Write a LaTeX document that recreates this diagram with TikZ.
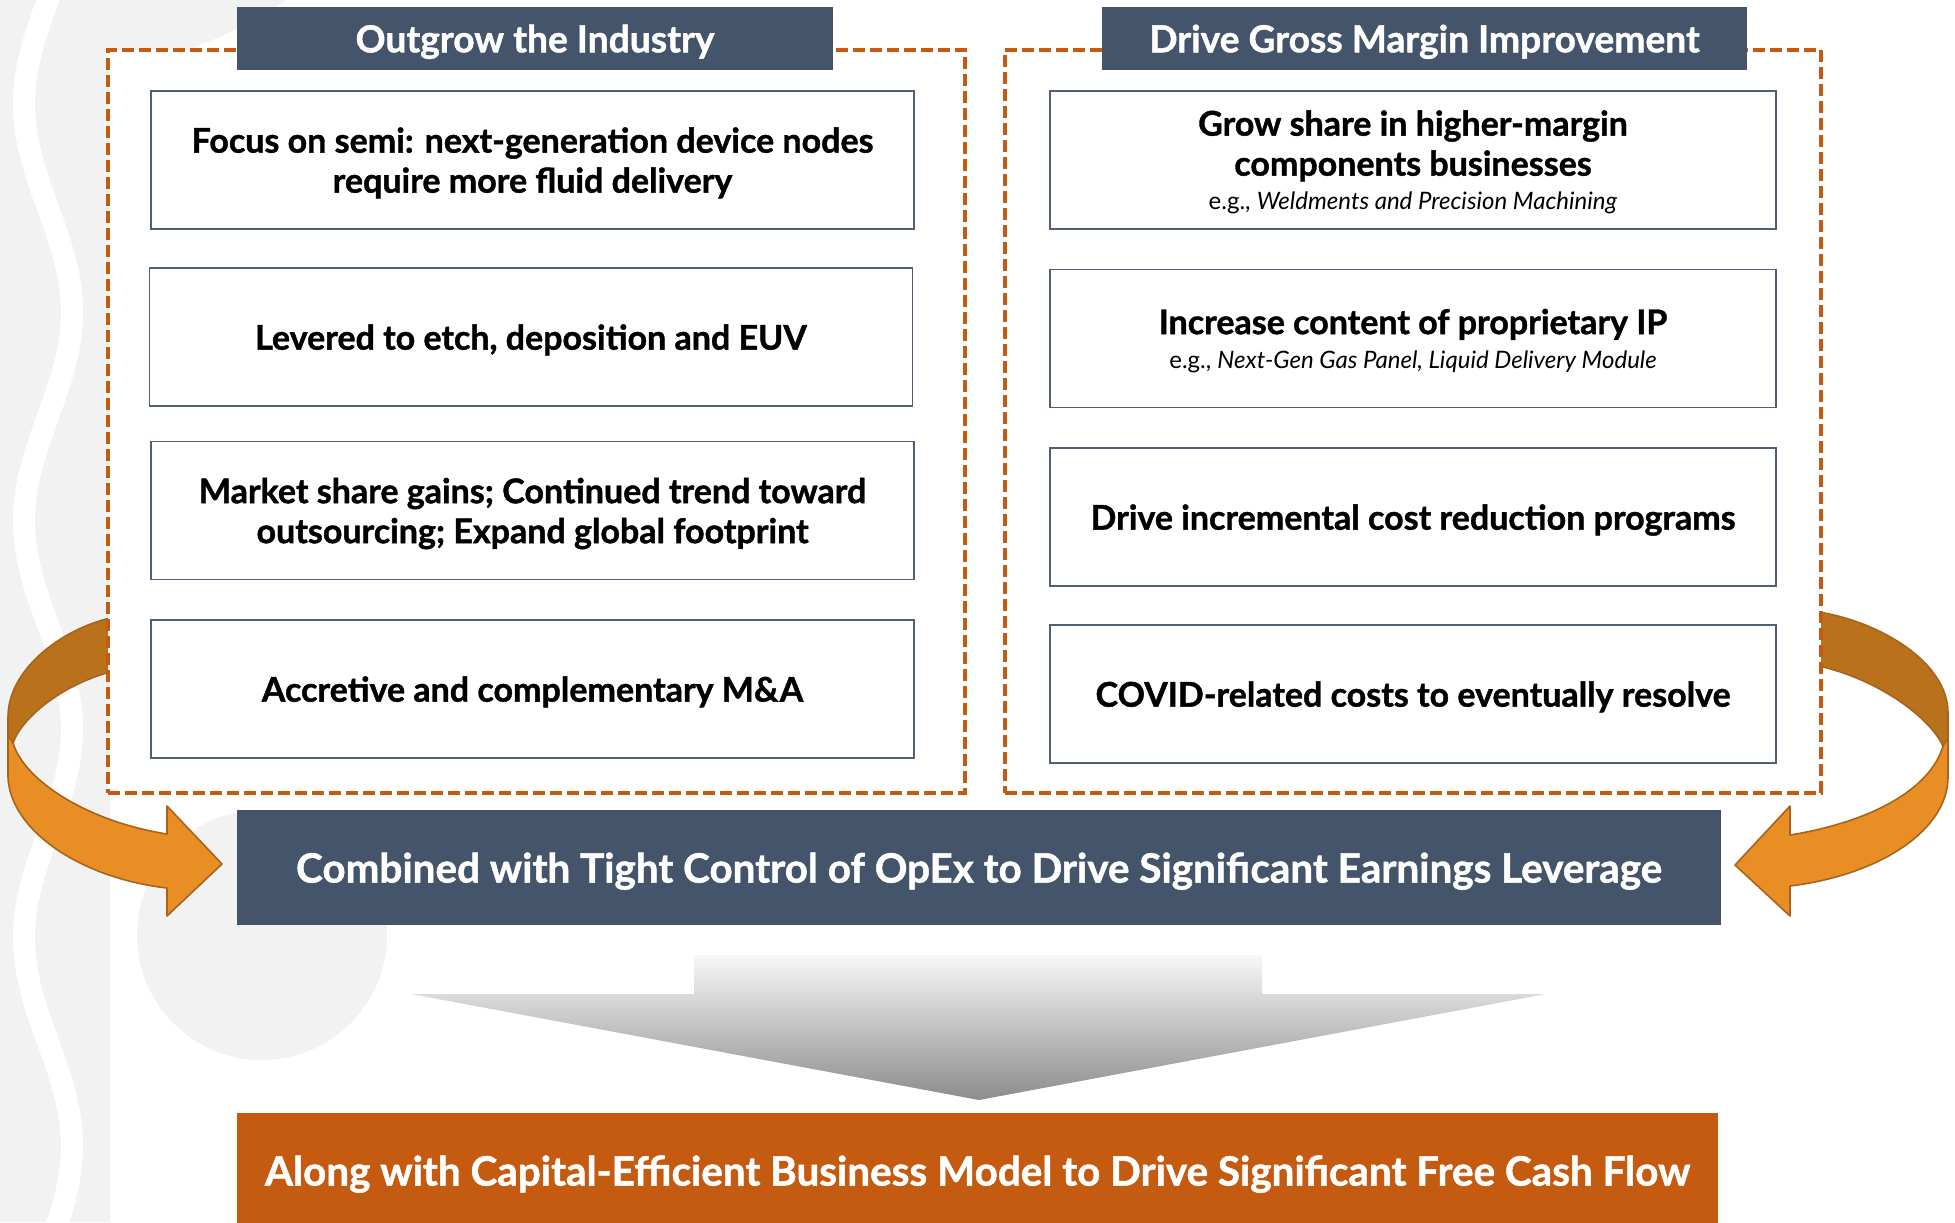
\documentclass[tikz,border=0pt]{standalone}
\usepackage{fontspec}
\setmainfont{Lato}[BoldFeatures={FakeBold=1.2}]
\usepackage{tikz}

\definecolor{slate}{HTML}{44546A}
\definecolor{rust}{HTML}{C55A11}
\definecolor{boxline}{HTML}{4F5F76}
\definecolor{ribbondark}{HTML}{B9711C}
\definecolor{ribbonlight}{HTML}{E88E24}
\definecolor{ribbonedge}{HTML}{A8641A}
\definecolor{bggray}{HTML}{F2F2F2}

\tikzset{
  groupbox/.style={draw=rust, line width=1.8pt, dash pattern=on 6pt off 2.5pt, fill=white, inner sep=0pt},
  headbox/.style={fill=slate, text=white, minimum height=31.5pt, inner sep=0pt, text depth=-0.5pt,
    font=\fontsize{18.6}{22}\selectfont\bfseries},
  itembox/.style={draw=boxline, line width=0.9pt, fill=white, align=center, text depth=-0.8pt,
    minimum height=69pt, inner sep=0pt, font=\fontsize{17}{20}\selectfont\bfseries},
  bannerbox/.style={text=white, inner sep=0pt, text depth=0pt, font=\fontsize{20.2}{24}\selectfont\bfseries},
  ribbonback/.style={fill=ribbondark, draw=ribbonedge, line width=0.8pt, line join=round},
  ribbonfront/.style={fill=ribbonlight, draw=ribbonedge, line width=0.8pt, line join=round},
}
\newcommand{\exampleline}[2]{{\fontsize{12}{14}\selectfont\mdseries #1 \textit{#2}}}

\begin{document}
\begin{tikzpicture}[x=0.5pt, y=-0.5pt]
        \useasboundingbox (0,0) rectangle (1955,1222);
        \fill[white] (0,0) rectangle (1955,1222);

        % background decor
        \fill[bggray] (60,-330) circle[radius=200pt];
        \fill[bggray] (0,0) rectangle (110,1222);
        \draw[white, line width=11pt, domain=-20:1240, samples=90]
            plot ({48+24*sin(0.8633*(\x-208))}, \x);
        \fill[bggray] (262,935) circle[radius=62.5pt];

        % big gray arrow down
        \shade[top color=black!3, bottom color=black!45]
            (694,955) -- (1262,955) -- (1262,994) -- (1546,994) -- (979,1100)
            -- (411,994) -- (694,994) -- cycle;

        % curved ribbon, left side
        \draw[ribbonfront] (8,725) -- (8,777) .. controls (10,830) and (80,878) .. (167,888)
            -- (167,916) -- (222,864) -- (167,806) -- (167,834)
            .. controls (90,822) and (25,782) .. (13,743) -- cycle;
        \draw[ribbonback] (110,618) .. controls (60,630) and (8,670) .. (8,717) -- (8,735)
            -- (13,743) .. controls (22,718) and (60,686) .. (110,672) -- cycle;

        % curved ribbon, right side
        \draw[ribbonfront] (1948,713) -- (1948,777) .. controls (1948,830) and (1880,875) .. (1790,886)
            -- (1790,916) -- (1735,865) -- (1790,806) -- (1790,835)
            .. controls (1870,822) and (1930,790) .. (1943,746) -- cycle;
        \draw[ribbonback] (1819,612) .. controls (1880,622) and (1948,662) .. (1948,713) -- (1948,738)
            -- (1943,746) .. controls (1930,718) and (1880,680) .. (1819,666) -- cycle;

        % dashed groups
        \node[groupbox, minimum width=428.5pt, minimum height=371.5pt] (outgrow) at (536.5,421.5) {};
        \node[groupbox, minimum width=408pt, minimum height=371.5pt] (margin) at (1413,421.5) {};

        % headers
        \node[headbox, minimum width=298pt] (outgrowhead) at (535,38.5) {Outgrow the Industry};
        \node[headbox, minimum width=322.5pt] (marginhead) at (1424.5,38.5) {Drive Gross Margin Improvement};

        % left column
        \node[itembox, minimum width=381.5pt] (og1) at (532.5,160)
            {Focus on semi: next-generation device nodes\\require more fluid delivery};
        \node[itembox, minimum width=381.5pt] (og2) at (531,337)
            {Levered to etch, deposition and EUV};
        \node[itembox, minimum width=381.5pt] (og3) at (532.5,510.5)
            {Market share gains; Continued trend toward\\outsourcing; Expand global footprint};
        \node[itembox, minimum width=381.5pt] (og4) at (532.5,689)
            {Accretive and complementary M\&A};

        % right column
        \node[itembox, minimum width=363pt] (gm1) at (1413,160)
            {Grow share in higher-margin\\components businesses\\[-3pt]\exampleline{e.g.,}{Weldments and Precision Machining}};
        \node[itembox, minimum width=363pt] (gm2) at (1413,338.5)
            {Increase content of proprietary IP\\[-3pt]\exampleline{e.g.,}{Next-Gen Gas Panel, Liquid Delivery Module}};
        \node[itembox, minimum width=363pt] (gm3) at (1413,517)
            {Drive incremental cost reduction programs};
        \node[itembox, minimum width=363pt] (gm4) at (1413,694)
            {COVID-related costs to eventually resolve};

        % banners
        \node[bannerbox, fill=slate, minimum width=742pt, minimum height=57.5pt] (opex) at (979,867.5)
            {Combined with Tight Control of OpEx to Drive Significant Earnings Leverage};
        \node[bannerbox, fill=rust, minimum width=740.5pt, minimum height=57.5pt] (fcf) at (977.5,1170.5)
            {Along with Capital-Efficient Business Model to Drive Significant Free Cash Flow};
    \end{tikzpicture}
\end{document}
